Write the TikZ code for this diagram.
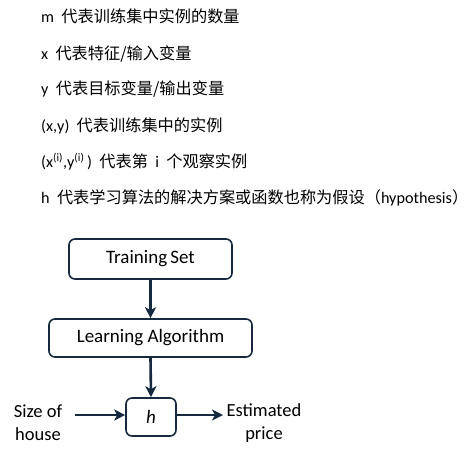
\documentclass[tikz,border=0pt]{standalone}
\usepackage{fontspec}
\setmainfont{Carlito}
\newfontfamily\cjk{Noto Sans CJK SC}
\usetikzlibrary{arrows.meta}
\definecolor{navy}{HTML}{17293F}
\tikzset{
  line/.style={anchor=west,inner sep=0pt,font=\fontsize{16.2}{19}\selectfont,text height=12pt,text depth=3pt},
  box/.style={draw=navy,line width=1.6pt,rounded corners=6pt,inner sep=0pt,font=\fontsize{19}{22}\selectfont},
  conn/.style={draw=navy,line width=2.6pt,-{Stealth[length=11pt,width=11pt,inset=3pt]}},
  lbl/.style={align=center,inner sep=0pt,font=\fontsize{18.5}{23}\selectfont}
}
\begin{document}
\begin{tikzpicture}[x=1pt,y=-1pt]
\useasboundingbox (0,0) rectangle (474,450);
\node[line] (l1) at (41,18) {m\ \ {\cjk 代表训练集中实例的数量}};
\node[line] (l2) at (41,55) {x\ \ {\cjk 代表特征/输入变量}};
\node[line] (l3) at (41,90) {y\ \ {\cjk 代表目标变量/输出变量}};
\node[line] (l4) at (41,127) {(x,y)\ \ {\cjk 代表训练集中的实例}};
\node[line] (l5) at (41,163) {(x\textsuperscript{(i)},y\textsuperscript{(i)}\,)\ \ {\cjk 代表第}\ \ i\ \ {\cjk 个观察实例}};
\node[line] (l6) at (41,199) {h\ \ {\cjk 代表学习算法的解决方案或函数也称为假设（}hypothesis{\cjk ）}};

\node[box,minimum width=163pt,minimum height=40pt] (ts) at (150.5,259) {Training\,Set};
\node[box,minimum width=203pt,minimum height=38pt] (la) at (150.5,338) {Learning Algorithm};
\node[box,minimum width=50pt,minimum height=38pt] (h) at (151,417) {\itshape h};
\coordinate (in) at (75,415);
\coordinate (out) at (223,415);
\node[lbl] (size) at (38,423) {Size of\\house};
\node[lbl] (est) at (264,423) {Estimated\\price};
\draw[conn] (ts.south) -- (la.north);
\draw[conn] (la.south) -- (h.north);
\draw[conn] (in) -- (in -| h.west);
\draw[conn] (out -| h.east) -- (out);
\end{tikzpicture}
\end{document}
